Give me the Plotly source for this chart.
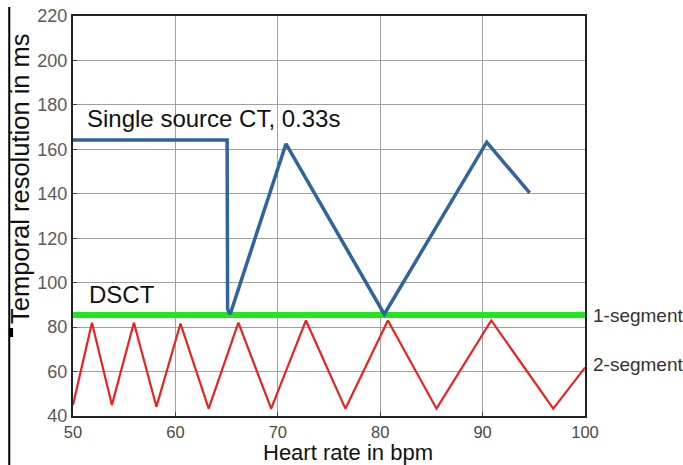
import plotly.graph_objects as go

# Data
single_x = [50, 65.05, 65.1, 65.35, 70.8, 80.4, 90.4, 94.6]
single_y = [164.2, 164.2, 88, 85.8, 162.5, 85.8, 163.2, 140.4]

dsct1_x = [50, 100]
dsct1_y = [85.5, 85.5]

dsct2_x = [50.0, 51.85, 53.8, 55.95, 58.15, 60.5, 63.25, 66.15, 69.35, 72.75, 76.6, 80.75, 85.5, 90.85, 96.9, 100]
dsct2_y = [45.0, 82.0, 45.0, 82.0, 44.2, 81.6, 43.3, 82.0, 43.3, 83.0, 43.3, 83.0, 43.3, 83.0, 43.3, 61.8]

x_ticks = [50, 60, 70, 80, 90, 100]
y_ticks = [40, 60, 80, 100, 120, 140, 160, 180, 200, 220]

FONT = "Liberation Sans, Arial, sans-serif"

fig = go.Figure()
fig.add_trace(go.Scatter(x=dsct1_x, y=dsct1_y, mode="lines",
                         line=dict(color="#22e622", width=6)))
fig.add_trace(go.Scatter(x=dsct2_x, y=dsct2_y, mode="lines",
                         line=dict(color="#ee2020", width=2.2)))
fig.add_trace(go.Scatter(x=single_x, y=single_y, mode="lines",
                         line=dict(color="#30649c", width=3.5)))

fig.update_layout(
    width=683, height=465,
    margin=dict(l=73, r=98, t=16, b=49),
    paper_bgcolor="white", plot_bgcolor="white",
    showlegend=False,
    font=dict(family=FONT),
    xaxis=dict(range=[50, 100], tickvals=x_ticks, showgrid=True,
               gridcolor="#a0a0a0", gridwidth=1.3, zeroline=False,
               showline=True, linecolor="#222", linewidth=2, mirror=True,
               ticks="inside", ticklen=4, tickcolor="#444", automargin=False,
               tickfont=dict(size=16.5, color="#4a4a4a")),
    yaxis=dict(range=[40, 220], tickvals=y_ticks, showgrid=True,
               gridcolor="#a0a0a0", gridwidth=1.3, zeroline=False,
               showline=True, linecolor="#222", linewidth=2, mirror=True,
               ticks="inside", ticklen=4, tickcolor="#444", automargin=False,
               tickfont=dict(size=18, color="#5a5a5a")),
)

fig.add_annotation(x=51.2, y=174.1, xref="x", yref="y", text="Single source CT, 0.33s",
                   showarrow=False, xanchor="left", yanchor="middle",
                   font=dict(size=24, color="#111", family=FONT))
fig.add_annotation(x=51.4, y=94.9, xref="x", yref="y", text="DSCT",
                   showarrow=False, xanchor="left", yanchor="middle",
                   font=dict(size=24, color="#111", family=FONT))
fig.add_annotation(x=1.012, y=85.45, xref="paper", yref="y", text="1-segment",
                   showarrow=False, xanchor="left", yanchor="middle",
                   font=dict(size=19, color="#333", family=FONT))
fig.add_annotation(x=1.012, y=63.0, xref="paper", yref="y", text="2-segment",
                   showarrow=False, xanchor="left", yanchor="middle",
                   font=dict(size=19, color="#333", family=FONT))
fig.add_annotation(x=0.537, y=-0.0915, xref="paper", yref="paper", text="Heart rate in bpm",
                   showarrow=False, xanchor="center", yanchor="middle",
                   font=dict(size=22, color="#111", family=FONT))
fig.add_annotation(x=-0.1036, y=0.595, xref="paper", yref="paper",
                   text="Temporal resolution in ms", textangle=-90,
                   showarrow=False, xanchor="center", yanchor="middle",
                   font=dict(size=25.5, color="#111", family=FONT))

# left edge artifact line
fig.add_shape(type="line", xref="paper", yref="paper",
              x0=-0.1245, x1=-0.1245, y0=-0.125, y1=1.0225,
              line=dict(color="black", width=2))
fig.add_shape(type="rect", xref="paper", yref="paper",
              x0=-0.1255, x1=-0.117, y0=(416 - 337) / 400, y1=(416 - 328) / 400,
              line=dict(width=0), fillcolor="black")

fig.write_html("out.html", config={"displayModeBar": False},
               post_script="document.body.style.margin='0';")
